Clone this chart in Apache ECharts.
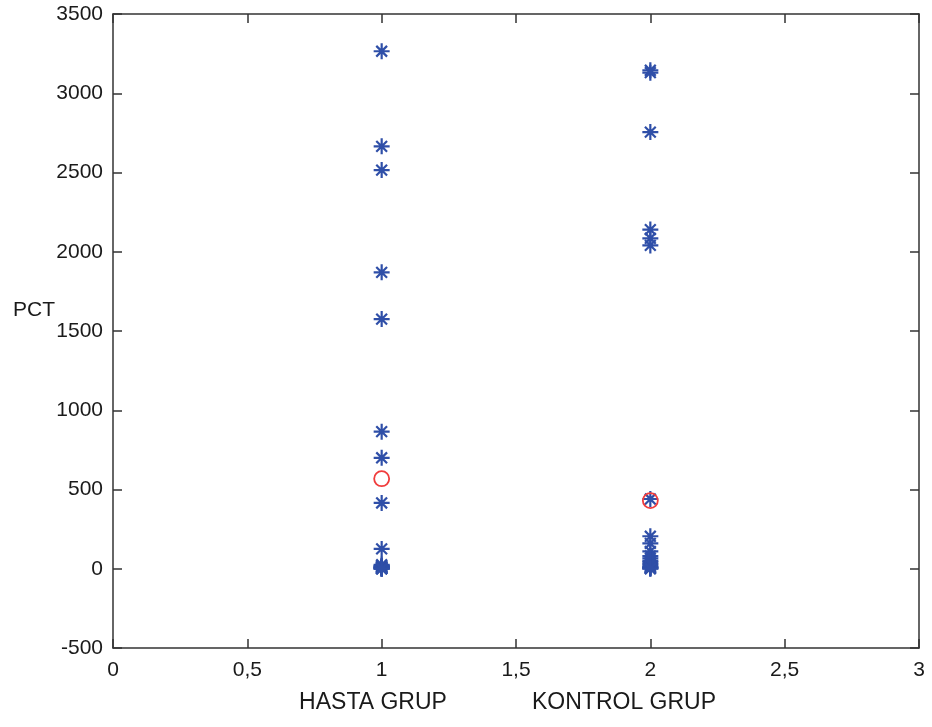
<!DOCTYPE html>
<html>
<head>
<meta charset="utf-8">
<script src="https://cdn.jsdelivr.net/npm/echarts@6/dist/echarts.min.js"></script>
<style>html,body{margin:0;padding:0;background:#fff;}#c{width:932px;height:727px;}</style>
</head>
<body>
<div id="c"></div>
<script>
// Data
const xTicks = [0, 0.5, 1, 1.5, 2, 2.5, 3];
const groupNames = ['HASTA GRUP', 'KONTROL GRUP'];
const hastaValues = [3265, 2665, 2515, 1870, 1575, 865, 700, 415, 125, 25, 20, 15, 12, 10, 8, 5, 3, 2, 0, 0];
const kontrolValues = [3145, 3130, 2755, 2140, 2085, 2040, 440, 205, 160, 110, 80, 65, 50, 40, 30, 20, 12, 8, 5, 2, 0];
const hastaMean = 568;
const kontrolMean = 430;

const blue = '#2f4fa8';
const red = '#f03c3c';
const axisColor = '#333';
const font = 'Liberation Sans, Arial, sans-serif';

const starPath = 'path://M8,0L8,16M0,8L16,8M2.6,2.6L13.4,13.4M2.6,13.4L13.4,2.6';

const chart = echarts.init(document.getElementById('c'), null, {renderer: 'canvas'});

const fmtX = v => String(v).replace('.', ',');
const fmtY = v => String(v);

chart.setOption({
  animation: false,
  backgroundColor: '#fff',
  grid: {left: 113, right: 13, top: 14, bottom: 79, show: false},
  xAxis: [{
    type: 'value', min: 0, max: 3, interval: 0.5,
    axisLine: {show: true, onZero: false, lineStyle: {color: axisColor, width: 1.5}},
    axisTick: {show: true, inside: true, length: 9, lineStyle: {color: axisColor, width: 1.5}},
    axisLabel: {formatter: fmtX, color: '#1a1a1a', fontFamily: font, fontSize: 21, margin: 12},
    splitLine: {show: false}
  }, {
    type: 'value', min: 0, max: 3, interval: 0.5, position: 'top',
    axisLine: {show: true, onZero: false, lineStyle: {color: axisColor, width: 1.5}},
    axisTick: {show: true, inside: true, length: 9, lineStyle: {color: axisColor, width: 1.5}},
    axisLabel: {show: false}, splitLine: {show: false}
  }],
  yAxis: [{
    type: 'value', min: -500, max: 3500, interval: 500,
    axisLine: {show: true, onZero: false, lineStyle: {color: axisColor, width: 1.5}},
    axisTick: {show: true, inside: true, length: 9, lineStyle: {color: axisColor, width: 1.5}},
    axisLabel: {formatter: fmtY, color: '#1a1a1a', fontFamily: font, fontSize: 21, margin: 10},
    splitLine: {show: false}
  }, {
    type: 'value', min: -500, max: 3500, interval: 500, position: 'right',
    axisLine: {show: true, onZero: false, lineStyle: {color: axisColor, width: 1.5}},
    axisTick: {show: true, inside: true, length: 9, lineStyle: {color: axisColor, width: 1.5}},
    axisLabel: {show: false}, splitLine: {show: false}
  }],
  series: [{
    type: 'scatter',
    symbol: starPath,
    symbolSize: 16,
    itemStyle: {color: 'transparent', borderColor: blue, borderWidth: 2.2, opacity: 1},
    data: hastaValues.map(v => [1, v]).concat(kontrolValues.map(v => [2, v])),
    z: 2
  }, {
    type: 'scatter',
    symbol: 'circle',
    symbolSize: 15,
    itemStyle: {color: 'transparent', borderColor: red, borderWidth: 1.8, opacity: 1},
    data: [[1, hastaMean], [2, kontrolMean]],
    z: 3
  }],
  graphic: [
    {type: 'text', x: 13, y: 300, style: {text: 'PCT', font: '21px ' + font, fill: '#1a1a1a'}},
    {type: 'text', x: 373, y: 691, style: {text: groupNames[0], font: '23px ' + font, fill: '#1a1a1a', textAlign: 'center'}},
    {type: 'text', x: 624, y: 691, style: {text: groupNames[1], font: '23px ' + font, fill: '#1a1a1a', textAlign: 'center'}}
  ]
});
</script>
</body>
</html>
